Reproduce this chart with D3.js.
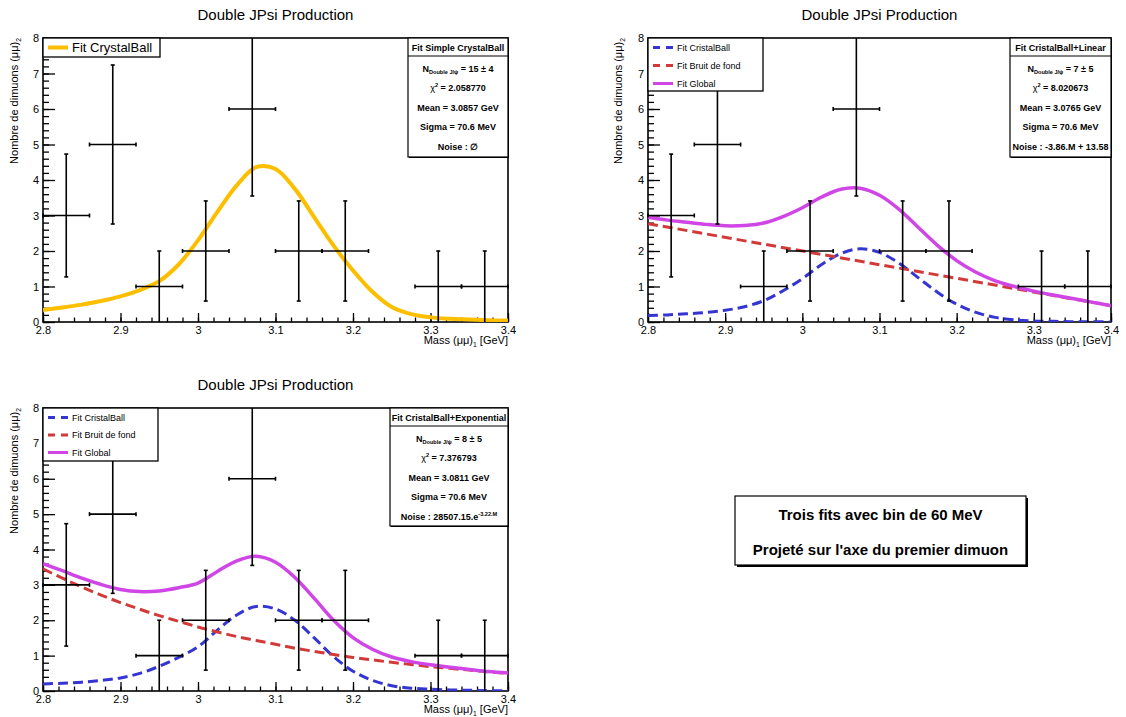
<!DOCTYPE html>
<html>
<head>
<meta charset="utf-8">
<script src="https://cdn.jsdelivr.net/npm/d3@7"></script>
<style>
  body { margin: 0; background: #fff; }
  svg text { font-family: "Liberation Sans", Arial, Helvetica, sans-serif; fill: #000; }
</style>
</head>
<body>
<div id="chart"></div>
<script>
// histogram: bins of 60 MeV, projected on the first dimuon
var binCenters = [2.83, 2.89, 2.95, 3.01, 3.07, 3.13, 3.19, 3.25, 3.31, 3.37];
var binCounts  = [3, 5, 1, 2, 6, 2, 2, 0, 1, 1];
var binErrors  = [1.73, 2.24, 1, 1.41, 2.45, 1.41, 1.41, 0, 1, 1];
var binHalfWidth = 0.03;

// fitted curves
var fitMass = [2.800, 2.825, 2.850, 2.875, 2.900, 2.925, 2.950, 2.975, 3.000, 3.025, 3.050, 3.075, 3.100,
               3.125, 3.150, 3.175, 3.200, 3.225, 3.250, 3.275, 3.300, 3.325, 3.350, 3.375, 3.400];

var cbSimple = [0.34, 0.41, 0.49, 0.59, 0.72, 0.90, 1.15, 1.62, 2.30, 3.10, 3.85, 4.36, 4.31,
                3.75, 2.95, 2.15, 1.45, 0.85, 0.42, 0.22, 0.13, 0.09, 0.07, 0.05, 0.04];

var cbLinear = [0.18, 0.20, 0.23, 0.27, 0.33, 0.43, 0.60, 0.88, 1.22, 1.62, 1.93, 2.06, 1.96,
                1.66, 1.25, 0.84, 0.50, 0.27, 0.13, 0.06, 0.03, 0.02, 0.01, 0.01, 0.00];
var linearMass  = [2.8, 3.4];
var linearNoise = [2.77, 0.46];
var globalLinear = [2.95, 2.87, 2.81, 2.75, 2.71, 2.72, 2.79, 2.97, 3.22, 3.52, 3.74, 3.77, 3.57,
                    3.18, 2.67, 2.16, 1.73, 1.40, 1.16, 1.00, 0.87, 0.76, 0.66, 0.56, 0.46];

var cbExpo = [0.20, 0.22, 0.25, 0.30, 0.37, 0.50, 0.70, 0.95, 1.25, 1.72, 2.15, 2.39, 2.32,
              2.00, 1.50, 0.97, 0.56, 0.30, 0.15, 0.08, 0.05, 0.03, 0.02, 0.01, 0.01];
var expoNoise = [3.45, 3.19, 2.94, 2.71, 2.50, 2.31, 2.13, 1.97, 1.81, 1.67, 1.54, 1.43, 1.32,
                 1.21, 1.12, 1.03, 0.95, 0.88, 0.81, 0.75, 0.69, 0.64, 0.59, 0.54, 0.50];
var globalExpo = [3.60, 3.40, 3.19, 3.01, 2.87, 2.81, 2.83, 2.92, 3.05, 3.38, 3.68, 3.81, 3.64,
                  3.21, 2.62, 2.00, 1.51, 1.18, 0.96, 0.83, 0.74, 0.67, 0.61, 0.55, 0.51];

var xTicks = [2.8, 2.9, 3.0, 3.1, 3.2, 3.3, 3.4];
var yTicks = [0, 1, 2, 3, 4, 5, 6, 7, 8];

var colors = { yellow: "#fcbf00", blue: "#3535d2", red: "#d23a3a", magenta: "#d045e6" };

function pts(xs, ys) { return xs.map(function(m, i){ return [m, ys[i]]; }); }

var svg = d3.select("#chart").append("svg")
  .attr("width", 1126)
  .attr("height", 717);

// draws text made of pieces, some as sub/superscript
function richText(sel, parts, size) {
  var shift = 0;
  parts.forEach(function(p){
    var target = p.sub ? size * 0.3 : (p.sup ? -size * 0.4 : 0);
    sel.append("tspan")
      .attr("dy", target - shift)
      .style("font-size", (p.sub || p.sup) ? (size * 0.62) + "px" : size + "px")
      .style("font-weight", p.normal ? "normal" : null)
      .text(p.t);
    shift = target;
  });
}

FitPanel = function(_svg, _cfg){
  this.svg = _svg;
  this.cfg = _cfg;
  this.initVis();
};

FitPanel.prototype.initVis = function(){
  var vis = this, c = vis.cfg;

  vis.x = d3.scaleLinear().domain([2.8, 3.4]).range([c.left, c.right]);
  vis.y = d3.scaleLinear().domain([0, 8]).range([c.bottom, c.top]);

  vis.g = vis.svg.append("g");

  vis.g.append("clipPath").attr("id", "clip-" + c.id)
    .append("rect")
    .attr("x", c.left).attr("y", c.top)
    .attr("width", c.right - c.left).attr("height", c.bottom - c.top);

  // title
  vis.g.append("text")
    .attr("x", (c.left + c.right) / 2)
    .attr("y", c.top - 18)
    .attr("text-anchor", "middle")
    .style("font-size", "15px")
    .text("Double JPsi Production");

  vis.drawAxes();
  vis.drawCurves();
  vis.drawPoints();
  vis.drawLegend();
  vis.drawStats();
};

FitPanel.prototype.drawAxes = function(){
  var vis = this, c = vis.cfg;

  var xMinor = vis.g.append("g")
    .attr("transform", "translate(0," + c.bottom + ")")
    .call(d3.axisBottom(vis.x).tickValues(vis.x.ticks(30)).tickSize(-4.5).tickFormat(""));
  var xMajor = vis.g.append("g")
    .attr("transform", "translate(0," + c.bottom + ")")
    .call(d3.axisBottom(vis.x).tickValues(xTicks).tickSize(-9).tickPadding(4)
      .tickFormat(function(d){ return String(+d.toFixed(1)); }));

  var yMinor = vis.g.append("g")
    .attr("transform", "translate(" + c.left + ",0)")
    .call(d3.axisLeft(vis.y).tickValues(vis.y.ticks(40)).tickSize(-6).tickFormat(""));
  var yMajor = vis.g.append("g")
    .attr("transform", "translate(" + c.left + ",0)")
    .call(d3.axisLeft(vis.y).tickValues(yTicks).tickSize(-12).tickPadding(4));

  [xMinor, xMajor, yMinor, yMajor].forEach(function(a){
    a.select(".domain").remove();
    a.selectAll("line").attr("stroke", "#000").attr("stroke-width", 1.3);
    a.selectAll("text").style("font-size", "11px").attr("font-family", null).attr("fill", "#000");
  });

  // frame
  vis.g.append("rect")
    .attr("x", c.left).attr("y", c.top)
    .attr("width", c.right - c.left).attr("height", c.bottom - c.top)
    .attr("fill", "none").attr("stroke", "#000").attr("stroke-width", 1.6);

  // axis titles
  var xt = vis.g.append("text")
    .attr("x", c.right).attr("y", c.bottom + 22)
    .attr("text-anchor", "end");
  richText(xt, [{t: "Mass (\u03bc\u03bc)"}, {t: "1", sub: true}, {t: " [GeV]"}], 11);

  var yt = vis.g.append("text")
    .attr("transform", "translate(" + c.yTitleX + "," + c.top + ")rotate(-90)")
    .attr("text-anchor", "end");
  richText(yt, [{t: "Nombre de dimuons (\u03bc\u03bc)"}, {t: "2", sub: true}], 11);
};

FitPanel.prototype.drawCurves = function(){
  var vis = this, c = vis.cfg;

  var line = d3.line()
    .x(function(d){ return vis.x(d[0]); })
    .y(function(d){ return vis.y(d[1]); })
    .curve(d3.curveCatmullRom.alpha(0.5));

  vis.g.append("g")
    .attr("clip-path", "url(#clip-" + c.id + ")")
    .selectAll("path")
    .data(c.curves)
    .enter().append("path")
    .attr("d", function(d){ return line(d.points); })
    .attr("fill", "none")
    .attr("stroke", function(d){ return d.color; })
    .attr("stroke-width", function(d){ return d.width; })
    .attr("stroke-dasharray", function(d){ return d.dash || null; });
};

FitPanel.prototype.drawPoints = function(){
  var vis = this, c = vis.cfg;

  var bins = binCenters.map(function(m, i){
    return { m: m, n: binCounts[i], e: binErrors[i] };
  }).filter(function(d){ return d.n > 0; });

  var g = vis.g.append("g")
    .attr("stroke", "#000").attr("stroke-width", 1.6);

  bins.forEach(function(d){
    var x0 = vis.x(d.m - binHalfWidth), x1 = vis.x(d.m + binHalfWidth), xc = vis.x(d.m);
    var yc = vis.y(d.n);
    var lo = Math.max(0, d.n - d.e), hi = Math.min(8, d.n + d.e);
    g.append("line").attr("x1", x0).attr("x2", x1).attr("y1", yc).attr("y2", yc);
    g.append("line").attr("x1", xc).attr("x2", xc).attr("y1", vis.y(lo)).attr("y2", vis.y(hi));
    // small end caps
    [x0, x1].forEach(function(xx){
      g.append("line").attr("x1", xx).attr("x2", xx).attr("y1", yc - 2).attr("y2", yc + 2);
    });
    if (hi < 8) g.append("line").attr("x1", xc - 2).attr("x2", xc + 2).attr("y1", vis.y(hi)).attr("y2", vis.y(hi));
    if (lo > 0) g.append("line").attr("x1", xc - 2).attr("x2", xc + 2).attr("y1", vis.y(lo)).attr("y2", vis.y(lo));
  });
};

FitPanel.prototype.drawLegend = function(){
  var vis = this, c = vis.cfg, L = c.legend;

  vis.g.append("rect")
    .attr("x", c.left).attr("y", c.top)
    .attr("width", L.width).attr("height", L.height)
    .attr("fill", "#fff").attr("stroke", "#000").attr("stroke-width", 1.3);

  L.entries.forEach(function(e, i){
    var yy = c.top + L.first + i * L.step;
    vis.g.append("line")
      .attr("x1", c.left + 5).attr("x2", c.left + 25)
      .attr("y1", yy).attr("y2", yy)
      .attr("stroke", e.color).attr("stroke-width", e.width)
      .attr("stroke-dasharray", e.dash || null);
    vis.g.append("text")
      .attr("x", c.left + 29).attr("y", yy)
      .attr("dy", "0.36em")
      .style("font-size", L.size + "px")
      .text(e.label);
  });
};

FitPanel.prototype.drawStats = function(){
  var vis = this, c = vis.cfg, S = c.stats;
  var cx = (S.x0 + c.right) / 2;

  var g = vis.g.append("g");
  g.append("rect")
    .attr("x", S.x0 + 1).attr("y", c.top + 1)
    .attr("width", c.right - S.x0).attr("height", S.height)
    .attr("fill", "#000");
  g.append("rect")
    .attr("x", S.x0).attr("y", c.top)
    .attr("width", c.right - S.x0).attr("height", S.height)
    .attr("fill", "#fff").attr("stroke", "#000").attr("stroke-width", 1.2);
  g.append("line")
    .attr("x1", S.x0).attr("x2", c.right)
    .attr("y1", c.top + 18).attr("y2", c.top + 18)
    .attr("stroke", "#000").attr("stroke-width", 1.2);

  g.append("text")
    .attr("x", cx).attr("y", c.top + 12.5)
    .attr("text-anchor", "middle")
    .style("font-size", "9px").style("font-weight", "bold")
    .text(S.header);

  S.lines.forEach(function(parts, i){
    var t = g.append("text")
      .attr("x", cx).attr("y", c.top + 33.5 + i * 19.5)
      .attr("text-anchor", "middle")
      .style("font-weight", "bold");
    richText(t, parts, 9);
  });
};

var fitLines = function(n, chi2, mean, noise){
  return [
    [{t: "N"}, {t: "Double J/\u03c8", sub: true}, {t: " = " + n}],
    [{t: "\u03c7", normal: true}, {t: "2", sup: true}, {t: " = " + chi2}],
    [{t: "Mean = " + mean + " GeV"}],
    [{t: "Sigma = 70.6 MeV"}],
    noise
  ];
};

var panels = [
  {
    id: "simple", left: 43, right: 508, top: 38, bottom: 322, yTitleX: 18,
    curves: [
      { points: pts(fitMass, cbSimple), color: colors.yellow, width: 4 }
    ],
    legend: { width: 117, height: 19, first: 9.5, step: 18, size: 13,
      entries: [{ label: "Fit CrystalBall", color: colors.yellow, width: 4 }] },
    stats: { x0: 408, height: 119, header: "Fit Simple CrystalBall",
      lines: fitLines("15 \u00b1 4", "2.058770", "3.0857", [{t: "Noise : \u2205"}]) }
  },
  {
    id: "linear", left: 648, right: 1111, top: 38, bottom: 322, yTitleX: 622,
    curves: [
      { points: pts(fitMass, cbLinear), color: colors.blue, width: 3, dash: "10,5" },
      { points: pts(linearMass, linearNoise), color: colors.red, width: 3, dash: "10,5" },
      { points: pts(fitMass, globalLinear), color: colors.magenta, width: 3.5 }
    ],
    legend: { width: 115, height: 53, first: 9.5, step: 18, size: 9,
      entries: [
        { label: "Fit CristalBall", color: colors.blue, width: 3, dash: "7,6" },
        { label: "Fit Bruit de fond", color: colors.red, width: 3, dash: "7,6" },
        { label: "Fit Global", color: colors.magenta, width: 3 }
      ] },
    stats: { x0: 1010, height: 119, header: "Fit CristalBall+Linear",
      lines: fitLines("7 \u00b1 5", "8.020673", "3.0765", [{t: "Noise : -3.86.M + 13.58"}]) }
  },
  {
    id: "expo", left: 43, right: 508, top: 408, bottom: 691, yTitleX: 18,
    curves: [
      { points: pts(fitMass, cbExpo), color: colors.blue, width: 3, dash: "10,5" },
      { points: pts(fitMass, expoNoise), color: colors.red, width: 3, dash: "10,5" },
      { points: pts(fitMass, globalExpo), color: colors.magenta, width: 3.5 }
    ],
    legend: { width: 115, height: 53, first: 9.5, step: 17.5, size: 9,
      entries: [
        { label: "Fit CristalBall", color: colors.blue, width: 3, dash: "7,6" },
        { label: "Fit Bruit de fond", color: colors.red, width: 3, dash: "7,6" },
        { label: "Fit Global", color: colors.magenta, width: 3 }
      ] },
    stats: { x0: 390, height: 118, header: "Fit CristalBall+Exponential",
      lines: fitLines("8 \u00b1 5", "7.376793", "3.0811",
        [{t: "Noise : 28507.15.e"}, {t: "-3.22.M", sup: true}]) }
  }
];

panels.forEach(function(p){ new FitPanel(svg, p); });

// summary box, bottom right
var note = svg.append("g");
note.append("rect").attr("x", 737).attr("y", 498).attr("width", 291).attr("height", 69).attr("fill", "#000");
note.append("rect").attr("x", 735).attr("y", 496).attr("width", 291).attr("height", 69)
  .attr("fill", "#fff").attr("stroke", "#000").attr("stroke-width", 1.2);
note.selectAll("text.note")
  .data(["Trois fits avec bin de 60 MeV", "Projet\u00e9 sur l'axe du premier dimuon"])
  .enter().append("text")
  .attr("class", "note")
  .attr("x", 880.5)
  .attr("y", function(d, i){ return 520 + i * 35; })
  .attr("text-anchor", "middle")
  .style("font-size", "15px").style("font-weight", "bold")
  .text(function(d){ return d; });
</script>
</body>
</html>
